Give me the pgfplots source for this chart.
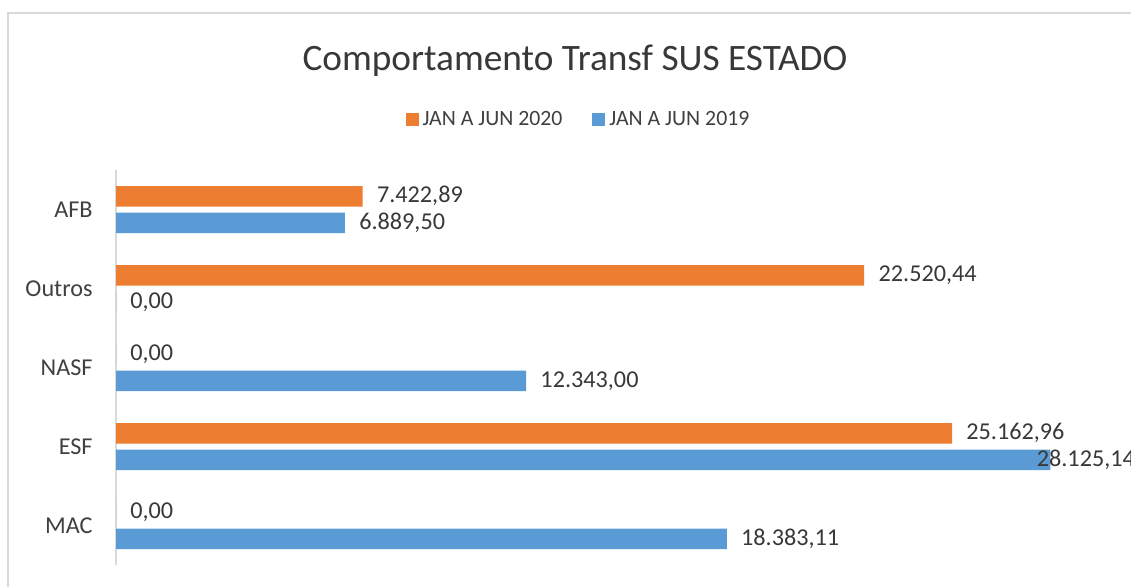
\documentclass[border=0pt]{standalone}
\usepackage{pgfplots}
\pgfplotsset{compat=1.18}
\usepackage{pgfplotstable}
\usepackage{fontspec}
\setmainfont{Carlito}
\definecolor{orng}{HTML}{ED7D31}
\definecolor{blu}{HTML}{5B9BD5}
\definecolor{txt}{HTML}{383838}
\definecolor{axl}{HTML}{404040}
\definecolor{frm}{HTML}{D9D9D9}

\pgfplotstableread{
y x lab sh
4 7422.89 7.422,89 7
3 22520.44 22.520,44 7
2 0 0,00 7
1 25162.96 25.162,96 7
0 0 0,00 7
}\tabA
\pgfplotstableread{
y x lab sh
4 6889.50 6.889,50 7
3 0 0,00 7
2 12343.00 12.343,00 7
1 28125.14 28.125,14 -7
0 18383.11 18.383,11 7
}\tabB

\begin{document}
\begin{tikzpicture}
\clip (0pt,0pt) rectangle (565.5pt,-293pt);
\fill[white] (0pt,0pt) rectangle (565.5pt,-293pt);
\draw[frm, line width=0.65pt] (4pt,-400pt) -- (4pt,-6.5pt) -- (700pt,-6.5pt);
\node[anchor=base, font=\fontsize{18.65}{22}\selectfont, text=txt, inner sep=0pt] at (287.5pt,-35pt) {Comportamento Transf SUS ESTADO};
\begin{axis}[
  at={(58pt,-282.5pt)}, anchor=south west,
  scale only axis, width=498.375pt, height=197.5pt,
  xbar, bar width=10.25pt,
  xmin=0, xmax=30000,
  ymin=-0.5, ymax=4.5,
  axis x line=none,
  axis y line*=left,
  y axis line style={frm, line width=0.65pt},
  ytick={0,1,2,3,4},
  yticklabels={MAC,ESF,NASF,Outros,AFB},
  major tick length=0pt,
  yticklabel style={font=\fontsize{12.1}{14}\selectfont, text=axl, anchor=east, inner sep=0pt, xshift=-11.5pt, text depth=0pt},
  clip=false,
  legend style={at={(0.465,1.127)}, anchor=center, draw=none, fill=none, legend columns=2,
    font=\fontsize{10.9}{13}\selectfont, text=axl,
    /tikz/every even column/.append style={column sep=13pt}},
]
\addplot[fill=orng, draw=none, bar shift=6.625pt,
  nodes near coords, point meta=explicit symbolic,
  visualization depends on={\thisrow{sh}\as\myshift},
  nodes near coords style={font=\fontsize{12.1}{14}\selectfont, text=txt, inner sep=0pt, anchor=west, xshift=\myshift pt},
  legend image code/.code={\fill[orng] (-1.5pt,-3.2pt) rectangle (5pt,3.2pt);}]
  table[x=x, y=y, meta=lab] {\tabA};
\addlegendentry{JAN A JUN 2020}
\addplot[fill=blu, draw=none, bar shift=-6.625pt,
  nodes near coords, point meta=explicit symbolic,
  visualization depends on={\thisrow{sh}\as\myshift},
  nodes near coords style={font=\fontsize{12.1}{14}\selectfont, text=txt, inner sep=0pt, anchor=west, xshift=\myshift pt},
  legend image code/.code={\fill[blu] (-1.5pt,-3.2pt) rectangle (5pt,3.2pt);}]
  table[x=x, y=y, meta=lab] {\tabB};
\addlegendentry{JAN A JUN 2019}
\end{axis}
\end{tikzpicture}
\end{document}
